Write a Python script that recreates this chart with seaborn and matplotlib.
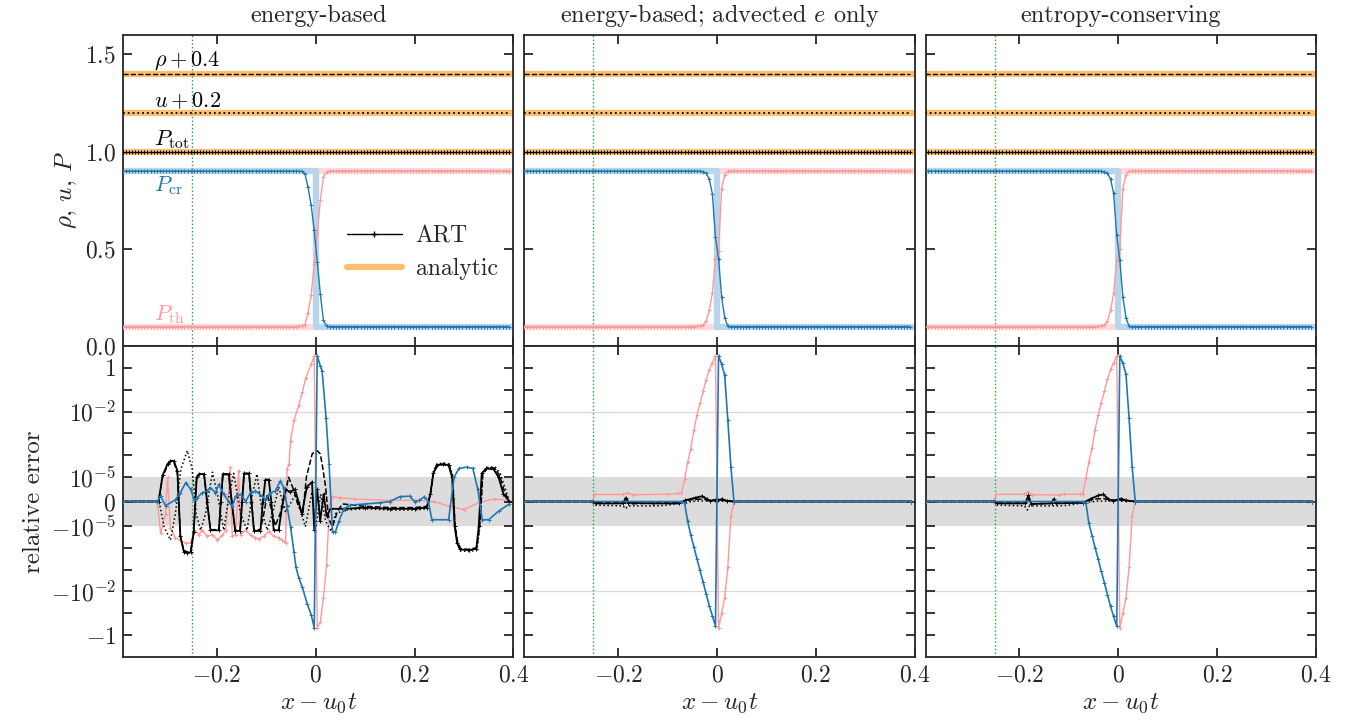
import numpy as np
import matplotlib
matplotlib.use("Agg")
import matplotlib.pyplot as plt
from matplotlib.lines import Line2D
from matplotlib.ticker import FixedLocator, FixedFormatter, NullLocator
import seaborn as sns

# ---------------- data ----------------
titles = ["energy-based", "energy-based; advected $e$ only", "entropy-conserving"]
x_cells = np.arange(-62.5, 63.0, 1.0) / 160.0          # cell centres
rho_level, u_level, ptot_level = 1.4, 1.2, 1.0
pcr_left, pcr_right = 0.9, 0.1
pth_left, pth_right = 0.1, 0.9
x_front = [-0.0719, -0.0656, -0.0594, -0.0531, -0.0469, -0.0406, -0.0344, -0.0281, -0.0219,
           -0.0156, -0.0094, -0.0031, 0.0031, 0.0094, 0.0156, 0.0219, 0.0281, 0.0344]
pcr_front = [
    [0.9, 0.9, 0.9, 0.9, 0.9, 0.8999, 0.8996, 0.898, 0.885, 0.816, 0.726, 0.596, 0.433, 0.266, 0.132, 0.102, 0.1, 0.1],
    [0.9, 0.9, 0.9, 0.9, 0.8999, 0.8997, 0.899, 0.897, 0.888, 0.859, 0.783, 0.56, 0.45, 0.25, 0.145, 0.1004, 0.1, 0.1],
    [0.9, 0.9, 0.9, 0.9, 0.8999, 0.8997, 0.899, 0.897, 0.888, 0.859, 0.785, 0.57, 0.44, 0.25, 0.145, 0.1004, 0.1, 0.1],
]
pth_front = [
    [0.1, 0.1, 0.1, 0.1, 0.1, 0.1001, 0.1003, 0.101, 0.11, 0.17, 0.26, 0.42, 0.58, 0.75, 0.87, 0.895, 0.9, 0.9],
    [0.1, 0.1, 0.1, 0.1, 0.1001, 0.1007, 0.1024, 0.108, 0.129, 0.183, 0.27, 0.45, 0.49, 0.81, 0.882, 0.899, 0.9, 0.9],
    [0.1, 0.1, 0.1, 0.1, 0.1001, 0.1007, 0.1024, 0.108, 0.129, 0.183, 0.27, 0.44, 0.50, 0.81, 0.882, 0.899, 0.9, 0.9],
]
x_green = -0.25

# relative errors (x, value) -- panel 1: energy-based
e1_tot = [(-0.39,0),(-0.318,0),(-0.31,1.2e-5),(-0.30,4e-5),(-0.294,5.7e-5),(-0.287,5.5e-5),(-0.28,2e-5),
          (-0.274,-3e-5),(-0.267,-1.5e-4),(-0.26,-1.8e-4),(-0.253,-1.6e-4),(-0.247,-2e-5),(-0.241,1e-5),
          (-0.236,1.4e-5),(-0.226,1.4e-5),(-0.22,0),(-0.213,-1.6e-5),(-0.196,-1.6e-5),(-0.192,0),
          (-0.188,1.4e-5),(-0.176,1.4e-5),(-0.17,0),(-0.163,-1.7e-5),(-0.153,-1.7e-5),(-0.149,0),
          (-0.145,1.5e-5),(-0.135,1.5e-5),(-0.13,0),(-0.125,-1.7e-5),(-0.112,-1.7e-5),(-0.107,0),
          (-0.102,0.9e-5),(-0.095,0.9e-5),(-0.09,0),(-0.085,-1.6e-5),(-0.075,-1.6e-5),(-0.068,-0.2e-5),
          (-0.062,0.5e-5),(-0.052,0.4e-5),(-0.042,0.5e-5),(-0.035,0),(-0.028,-0.5e-5),(-0.018,0.6e-5),
          (-0.0075,0.8e-5),(-0.003,-1.5e-5),(0.003,0.5e-5),(0.009,-0.8e-5),(0.016,0.3e-5),(0.022,-0.6e-5),
          (0.03,-0.3e-5),(0.06,-0.3e-5),(0.1,-0.25e-5),(0.15,-0.3e-5),(0.2,-0.3e-5),(0.225,-0.25e-5),
          (0.232,0.3e-5),(0.238,1.5e-5),(0.245,3.5e-5),(0.257,4e-5),(0.269,3.5e-5),(0.276,1e-5),
          (0.281,-1e-5),(0.286,-6e-5),(0.292,-1.2e-4),(0.31,-1.3e-4),(0.325,-1.1e-4),(0.33,-1e-5),
          (0.336,1.5e-5),(0.345,2.5e-5),(0.36,2.3e-5),(0.37,1e-5),(0.38,0.3e-5),(0.392,0)]
e1_rho = [(-0.39,0),(-0.318,0),(-0.31,1e-5),(-0.30,3.5e-5),(-0.294,5e-5),(-0.287,5e-5),(-0.28,1.5e-5),
          (-0.274,-3e-5),(-0.267,-1.3e-4),(-0.26,-1.6e-4),(-0.253,-1.4e-4),(-0.247,-2e-5),(-0.241,1e-5),
          (-0.236,1.3e-5),(-0.226,1.3e-5),(-0.22,0),(-0.213,-1.5e-5),(-0.196,-1.5e-5),(-0.192,0),
          (-0.188,1.3e-5),(-0.176,1.3e-5),(-0.17,0),(-0.163,-1.6e-5),(-0.153,-1.6e-5),(-0.149,0),
          (-0.145,1.4e-5),(-0.135,1.4e-5),(-0.13,0),(-0.125,-1.5e-5),(-0.112,-1.5e-5),(-0.105,-0.5e-5),
          (-0.098,0.3e-5),(-0.09,-0.3e-5),(-0.082,-1e-5),(-0.072,-0.5e-5),(-0.062,0.3e-5),(-0.055,1e-5),
          (-0.045,0.5e-5),(-0.035,-0.2e-5),(-0.026,-0.5e-5),(-0.019,1e-5),(-0.007,1.2e-4),(0.003,1.6e-4),
          (0.009,1.2e-4),(0.013,4e-5),(0.02,0.6e-5),(0.026,-0.7e-5),(0.034,-1.1e-5),(0.044,-0.4e-5),
          (0.054,-0.1e-5),(0.1,-0.2e-5),(0.15,-0.25e-5),(0.2,-0.25e-5),(0.225,-0.2e-5),(0.232,0.3e-5),
          (0.238,1.3e-5),(0.245,3e-5),(0.257,3.8e-5),(0.27,3.5e-5),(0.277,1e-5),(0.282,-1e-5),
          (0.287,-5e-5),(0.293,-1.1e-4),(0.31,-1.2e-4),(0.326,-1e-4),(0.332,-1e-5),(0.338,1.3e-5),
          (0.348,2.8e-5),(0.362,2.6e-5),(0.372,1.2e-5),(0.382,0.4e-5),(0.392,0)]
e1_u = [(-0.39,0),(-0.317,0),(-0.307,-1.1e-5),(-0.294,-4.5e-5),(-0.284,-0.5e-5),(-0.273,2.3e-5),
        (-0.26,1.65e-4),(-0.25,2.3e-5),(-0.242,-0.5e-5),(-0.233,-1.6e-5),(-0.223,-0.5e-5),(-0.209,1.7e-5),
        (-0.199,0.3e-5),(-0.186,-1.6e-5),(-0.176,0.2e-5),(-0.166,1.5e-5),(-0.152,-0.5e-5),(-0.139,-1.6e-5),
        (-0.129,0.2e-5),(-0.119,1.4e-5),(-0.108,-0.5e-5),(-0.098,-1.6e-5),(-0.085,-0.3e-5),(-0.075,0.6e-5),
        (-0.061,-0.45e-5),(-0.041,0.3e-5),(-0.021,-1.1e-5),(-0.0075,0.4e-5),(0.0,-1.2e-5),(0.01,0.3e-5),
        (0.02,-0.8e-5),(0.031,-1.8e-5),(0.04,-0.5e-5),(0.06,-0.35e-5),(0.1,-0.3e-5),(0.15,-0.35e-5),
        (0.2,-0.35e-5),(0.225,-0.3e-5),(0.232,0.3e-5),(0.238,1.8e-5),(0.245,4e-5),(0.258,4.5e-5),
        (0.27,4e-5),(0.277,1.2e-5),(0.282,-1e-5),(0.287,-7e-5),(0.293,-1.4e-4),(0.31,-1.5e-4),
        (0.326,-1.3e-4),(0.332,-1.2e-5),(0.338,1.5e-5),(0.35,3e-5),(0.364,2.8e-5),(0.374,1.4e-5),
        (0.384,0.5e-5),(0.392,0)]
e1_cr = [(-0.39,0),(-0.3206,0),(-0.314,0.22e-5),(-0.304,-0.17e-5),(-0.284,0.07e-5),(-0.274,0.36e-5),
         (-0.263,0.78e-5),(-0.253,0.5e-5),(-0.246,0.07e-5),(-0.240,0.15e-5),(-0.230,0.36e-5),(-0.220,0.43e-5),
         (-0.213,0.57e-5),(-0.203,0.36e-5),(-0.196,0.7e-5),(-0.186,0.29e-5),(-0.176,0),(-0.169,-0.2e-5),
         (-0.162,0.22e-5),(-0.152,0.29e-5),(-0.142,0),(-0.132,0.36e-5),(-0.122,0.43e-5),(-0.108,0.22e-5),
         (-0.102,0.07e-5),(-0.092,0.36e-5),(-0.082,0.43e-5),(-0.0715,0.85e-5),(-0.065,0.57e-5),
         (-0.058,-0.2e-5),(-0.051,-1.1e-5),(-0.044,-1.6e-4),(-0.040,-7.8e-4),(-0.034,-2.5e-3),
         (-0.027,-6.5e-3),(-0.017,-3.9e-2),(-0.009,-0.12),(-0.003,-0.46),(0.003,3.5),(0.0094,1.2),
         (0.013,0.7),(0.021,4.9e-3),(0.027,4e-5),(0.034,-1.9e-5),(0.040,-1.9e-5),(0.047,-0.8e-5),
         (0.057,-0.3e-5),(0.07,-0.15e-5),(0.1,-0.1e-5),(0.13,-0.05e-5),(0.15,0),(0.17,0.2e-5),
         (0.19,0.22e-5),(0.2,0),(0.21,0.05e-5),(0.22,0.2e-5),(0.228,0),(0.235,-0.75e-5),(0.269,-0.75e-5),
         (0.28,1e-5),(0.29,2.5e-5),(0.306,2.9e-5),(0.318,2.5e-5),(0.328,0.5e-5),(0.337,-0.75e-5),
         (0.35,-0.75e-5),(0.37,-0.4e-5),(0.392,-0.1e-5)]
e1_th = [(-0.39,0),(-0.3206,0),(-0.314,-2.2e-5),(-0.304,-0.5e-5),(-0.300,1e-5),(-0.294,-1.3e-5),
         (-0.284,-3.5e-5),(-0.274,-4.5e-5),(-0.263,-6.3e-5),(-0.253,-6e-5),(-0.246,-1.6e-5),(-0.236,-2.5e-5),
         (-0.230,-1.6e-5),(-0.220,-3e-5),(-0.209,-2.5e-5),(-0.199,-4.5e-5),(-0.189,-2.7e-5),(-0.182,-1.6e-5),
         (-0.173,2.8e-5),(-0.169,-3e-5),(-0.162,-2.5e-5),(-0.156,2e-5),(-0.152,-2.5e-5),(-0.142,-1.6e-5),
         (-0.132,-2.7e-5),(-0.122,-3.5e-5),(-0.115,-4e-5),(-0.105,-3e-5),(-0.095,-1.8e-5),(-0.085,-3e-5),
         (-0.075,-3.5e-5),(-0.068,-4.5e-5),(-0.061,-6.3e-5),(-0.058,2.3e-5),(-0.054,4e-5),(-0.051,4.7e-4),
         (-0.044,4e-3),(-0.034,2e-2),(-0.027,0.08),(-0.020,0.35),(-0.009,1.5),(-0.003,3.5),(0.003,-0.46),
         (0.0094,-0.25),(0.0156,-0.02),(0.0219,-6e-4),(0.028,-0.1e-5),(0.034,0.2e-5),(0.05,0.15e-5),
         (0.08,0.1e-5),(0.15,0.05e-5),(0.2,0.05e-5),(0.24,0),(0.27,-0.2e-5),(0.3,-0.33e-5),(0.33,-0.05e-5),
         (0.36,0.1e-5),(0.392,0.05e-5)]

# panel 2: energy-based; advected e only
e2_tot = [(-0.39,0),(-0.25,0),(-0.245,-0.08e-5),(-0.19,-0.08e-5),(-0.185,0.15e-5),(-0.18,-0.05e-5),
          (-0.13,-0.08e-5),(-0.077,-0.08e-5),(-0.064,0.05e-5),(-0.045,0.15e-5),(-0.030,0.22e-5),
          (-0.02,0.1e-5),(-0.014,0.03e-5),(-0.005,0.06e-5),(0.003,0.06e-5),(0.01,0.1e-5),(0.02,0.03e-5),
          (0.034,0),(0.392,0)]
e2_rho = [(-0.39,0),(-0.25,0),(-0.245,-0.05e-5),(-0.185,-0.05e-5),(-0.182,0.1e-5),(-0.178,-0.1e-5),
          (-0.1,-0.05e-5),(-0.07,-0.02e-5),(-0.05,0.08e-5),(-0.03,0.1e-5),(-0.01,0.05e-5),(0.01,0.05e-5),
          (0.034,0),(0.392,0)]
e2_u = [(-0.39,0),(-0.25,0),(-0.245,-0.15e-5),(-0.19,-0.18e-5),(-0.185,-0.3e-5),(-0.18,-0.18e-5),
        (-0.12,-0.18e-5),(-0.1,-0.15e-5),(-0.07,-0.05e-5),(-0.04,0.02e-5),(0.0,0.02e-5),(0.034,0),(0.392,0)]
e2_cr = [(-0.39,0),(-0.0719,0),(-0.0656,-0.05e-5),(-0.0594,-0.82e-5),(-0.0531,-2.6e-5),(-0.0469,-9.1e-5),
         (-0.0406,-3.2e-4),(-0.0344,-1.1e-3),(-0.0281,-3.8e-3),(-0.0219,-1.3e-2),(-0.0156,-4.6e-2),
         (-0.0094,-0.13),(-0.0031,-0.38),(0.0031,3.5),(0.0094,1.5),(0.0156,0.45),(0.0219,4e-3),
         (0.0281,3e-5),(0.0344,0),(0.392,0)]
e2_th = [(-0.39,0),(-0.2531,0),(-0.2469,0.29e-5),(-0.19,0.29e-5),(-0.181,0.35e-5),(-0.17,0.28e-5),
         (-0.1,0.3e-5),(-0.0781,0.33e-5),(-0.0719,0.33e-5),(-0.0656,0.92e-5),(-0.0594,4.8e-5),
         (-0.0531,2e-4),(-0.0469,1.4e-3),(-0.0406,6.9e-3),(-0.0344,2.4e-2),(-0.0281,8.3e-2),
         (-0.0219,0.29),(-0.0156,0.83),(-0.0094,1.7),(-0.0031,3.5),(0.0031,-0.46),(0.0094,-0.1),
         (0.0156,-0.02),(0.0219,-7.8e-4),(0.0281,-0.6e-5),(0.0344,0),(0.392,0)]

# panel 3: entropy-conserving
e3_tot = [(-0.39,0),(-0.25,0),(-0.245,-0.08e-5),(-0.188,-0.08e-5),(-0.182,0.25e-5),(-0.176,-0.1e-5),
          (-0.135,-0.08e-5),(-0.131,0.1e-5),(-0.127,-0.08e-5),(-0.071,-0.05e-5),(-0.055,0.12e-5),
          (-0.04,0.25e-5),(-0.030,0.29e-5),(-0.02,0.1e-5),(-0.010,0.03e-5),(0.006,0.12e-5),
          (0.015,0.05e-5),(0.034,0),(0.392,0)]
e3_rho = [(-0.39,0),(-0.25,0),(-0.245,-0.05e-5),(-0.186,-0.05e-5),(-0.182,0.15e-5),(-0.178,-0.1e-5),
          (-0.1,-0.05e-5),(-0.07,-0.02e-5),(-0.05,0.1e-5),(-0.03,0.12e-5),(-0.01,0.05e-5),(0.01,0.05e-5),
          (0.034,0),(0.392,0)]
e3_u = [(-0.39,0),(-0.25,0),(-0.245,-0.15e-5),(-0.19,-0.18e-5),(-0.184,-0.35e-5),(-0.18,-0.18e-5),
        (-0.12,-0.18e-5),(-0.1,-0.15e-5),(-0.07,-0.05e-5),(-0.04,0.02e-5),(0.0,0.02e-5),(0.034,0),(0.392,0)]
e3_cr = [(-0.39,0),(-0.0719,0),(-0.0656,-0.05e-5),(-0.0594,-0.9e-5),(-0.0531,-2.8e-5),(-0.0469,-1e-4),
         (-0.0406,-3.4e-4),(-0.0344,-1.2e-3),(-0.0281,-4e-3),(-0.0219,-1.4e-2),(-0.0156,-4.8e-2),
         (-0.0094,-0.14),(-0.0031,-0.38),(0.0031,3.5),(0.0094,1.6),(0.0156,0.5),(0.0219,5e-3),
         (0.0281,3e-5),(0.0344,0),(0.392,0)]
e3_th = [(-0.39,0),(-0.2531,0),(-0.2469,0.29e-5),(-0.19,0.3e-5),(-0.182,0.4e-5),(-0.175,0.28e-5),
         (-0.12,0.27e-5),(-0.11,0.3e-5),(-0.0781,0.3e-5),(-0.0719,0.3e-5),(-0.0656,0.95e-5),
         (-0.0594,5e-5),(-0.0531,2.1e-4),(-0.0469,1.5e-3),(-0.0406,7e-3),(-0.0344,2.5e-2),
         (-0.0281,8.5e-2),(-0.0219,0.3),(-0.0156,0.85),(-0.0094,1.7),(-0.0031,3.5),(0.0031,-0.46),
         (0.0094,-0.1),(0.0156,-0.02),(0.0219,-7.8e-4),(0.0281,-0.6e-5),(0.0344,0),(0.392,0)]

errors = [
    dict(tot=e1_tot, rho=e1_rho, u=e1_u, cr=e1_cr, th=e1_th),
    dict(tot=e2_tot, rho=e2_rho, u=e2_u, cr=e2_cr, th=e2_th),
    dict(tot=e3_tot, rho=e3_rho, u=e3_u, cr=e3_cr, th=e3_th),
]

sym_ticks = [-1, -0.1, -1e-2, -1e-3, -1e-4, -1e-5, 0, 1e-5, 1e-4, 1e-3, 1e-2, 0.1, 1]
sym_labels = ["$-1$", "", "$-10^{-2}$", "", "", "$-10^{-5}$", "$0$", "$10^{-5}$", "", "", "$10^{-2}$", "", "$1$"]
x_ticks = [-0.2, 0.0, 0.2, 0.4]
x_labels = ["$-0.2$", "$0$", "$0.2$", "$0.4$"]
top_ticks = [0.0, 0.5, 1.0, 1.5]
top_labels = ["$0.0$", "$0.5$", "$1.0$", "$1.5$"]

# ---------------- style ----------------
sns.set_style("ticks")
plt.rcParams.update({
    "font.family": "serif",
    "font.serif": ["cmr10", "DejaVu Serif"],
    "mathtext.fontset": "cm",
    "axes.formatter.use_mathtext": True,
    "axes.linewidth": 1.3,
    "font.size": 17,
})

C_BLUE = "#1f77b4"
C_PINK = "#ff9999"
C_ORANGE = "#fdbf6f"
C_LBLUE = "#b9d5ea"
C_LPINK = "#ffdada"
C_GREEN = "#2ca02c"


def line(ax, xs, ys, color, ls="-", lw=1.0, marker=None, ms=3.0, z=3):
    kw = dict(color=color, linestyle=ls, linewidth=lw, estimator=None, sort=False,
              legend=False, zorder=z, ax=ax)
    if marker:
        kw.update(marker=marker, markersize=ms, markeredgecolor=color, markeredgewidth=0.7)
    sns.lineplot(x=list(xs), y=list(ys), **kw)


def profile(left, right, fvals):
    vals = np.where(x_cells < 0, left, right).astype(float)
    for xf, vf in zip(x_front, fvals):
        vals[np.argmin(np.abs(x_cells - xf))] = vf
    return vals


fig = plt.figure(figsize=(13.58, 7.28), dpi=100)
axes = fig.subplots(2, 3, sharex=True, gridspec_kw=dict(hspace=0.0, wspace=0.028))
fig.subplots_adjust(left=0.0906, right=0.969, top=0.952, bottom=0.0975)

for j in range(3):
    ax = axes[0, j]
    # analytic
    for lev in (rho_level, u_level, ptot_level):
        line(ax, [-0.39, 0.4], [lev, lev], C_ORANGE, lw=4.5, z=1)
    line(ax, [-0.39, 0, 0, 0.4], [pth_left, pth_left, pth_right, pth_right], C_LPINK, lw=4.5, z=1)
    line(ax, [-0.39, 0, 0, 0.4], [pcr_left, pcr_left, pcr_right, pcr_right], C_LBLUE, lw=4.5, z=1.5)
    # simulation
    line(ax, x_cells, np.full(x_cells.size, rho_level), "k", ls="--", lw=1.0, z=3)
    line(ax, x_cells, np.full(x_cells.size, u_level), "k", ls=":", lw=1.3, z=3)
    line(ax, x_cells, np.full(x_cells.size, ptot_level), "k", lw=1.0, marker="+", ms=3, z=3)
    line(ax, x_cells, profile(pth_left, pth_right, pth_front[j]), C_PINK, lw=1.0, marker="+", ms=3, z=3)
    line(ax, x_cells, profile(pcr_left, pcr_right, pcr_front[j]), C_BLUE, lw=1.0, marker="+", ms=3, z=4)
    ax.axvline(x_green, color=C_GREEN, ls=":", lw=1.0, zorder=2)
    ax.set_ylim(0, 1.6)
    ax.set_xlim(-0.39, 0.4)
    ax.set_title(titles[j], fontsize=17.5, pad=9)
    ax.yaxis.set_major_locator(FixedLocator(top_ticks))
    ax.yaxis.set_minor_locator(NullLocator())
    if j == 0:
        ax.yaxis.set_major_formatter(FixedFormatter(top_labels))
        ax.set_ylabel(r"$\rho,\, u,\, P$", fontsize=18)
    else:
        ax.set_yticklabels([])

    # error panel
    ax2 = axes[1, j]
    ax2.axhspan(-1e-5, 1e-5, color="#dcdcdc", lw=0, zorder=0)
    for yy in (-1e-2, 1e-2):
        ax2.axhline(yy, color="#d8d8d8", lw=0.9, zorder=0.5)
    e = errors[j]
    xs, ys = zip(*e["th"]); line(ax2, xs, ys, C_PINK, lw=1.0, marker="+", ms=2.5, z=3)
    xs, ys = zip(*e["u"]); line(ax2, xs, ys, "k", ls=":", lw=1.1, z=4)
    xs, ys = zip(*e["rho"]); line(ax2, xs, ys, "k", ls="--", lw=1.1, z=4)
    xs, ys = zip(*e["tot"]); line(ax2, xs, ys, "k", lw=1.3, marker="+", ms=2.5, z=4)
    xs, ys = zip(*e["cr"]); line(ax2, xs, ys, C_BLUE, lw=1.2, marker="+", ms=2.5, z=5)
    ax2.axvline(x_green, color=C_GREEN, ls=":", lw=1.0, zorder=2)
    ax2.set_yscale("symlog", linthresh=1e-5, linscale=1.0)
    ax2.set_ylim(-10, 10)
    ax2.yaxis.set_major_locator(FixedLocator(sym_ticks))
    ax2.yaxis.set_minor_locator(NullLocator())
    if j == 0:
        ax2.yaxis.set_major_formatter(FixedFormatter(sym_labels))
        ax2.set_ylabel("relative error", fontsize=18)
    else:
        ax2.set_yticklabels([])
    ax2.xaxis.set_major_locator(FixedLocator(x_ticks))
    ax2.xaxis.set_minor_locator(NullLocator())
    ax2.xaxis.set_major_formatter(FixedFormatter(x_labels))
    ax2.set_xlabel("$x - u_0 t$", fontsize=18)
    ax2.set_xlim(-0.39, 0.4)

for ax in axes.flat:
    ax.tick_params(which="both", direction="in", top=True, right=True, length=6.5, width=1.3,
                   labelsize=17, pad=5)
    for s in ax.spines.values():
        s.set_linewidth(1.3)

# labels in first panel
a0 = axes[0, 0]
a0.text(-0.328, 1.41, r"$\rho + 0.4$", color="k", fontsize=16, va="bottom")
a0.text(-0.328, 1.21, r"$u + 0.2$", color="k", fontsize=16, va="bottom")
a0.text(-0.328, 1.005, r"$P_{\rm tot}$", color="k", fontsize=16, va="bottom")
a0.text(-0.328, 0.885, r"$P_{\rm cr}$", color=C_BLUE, fontsize=16, va="top")
a0.text(-0.328, 0.105, r"$P_{\rm th}$", color=C_PINK, fontsize=16, va="bottom")
handles = [Line2D([], [], color="k", lw=1.0, marker="+", ms=4, markevery=[1], label="ART"),
           Line2D([], [], color=C_ORANGE, lw=4.5, label="analytic")]
a0.legend(handles=handles, frameon=False, loc="center left", bbox_to_anchor=(0.52, 0.30),
          fontsize=17, handlelength=2.3, labelspacing=0.45, handletextpad=0.6)

fig.savefig("out.png", dpi=100)
